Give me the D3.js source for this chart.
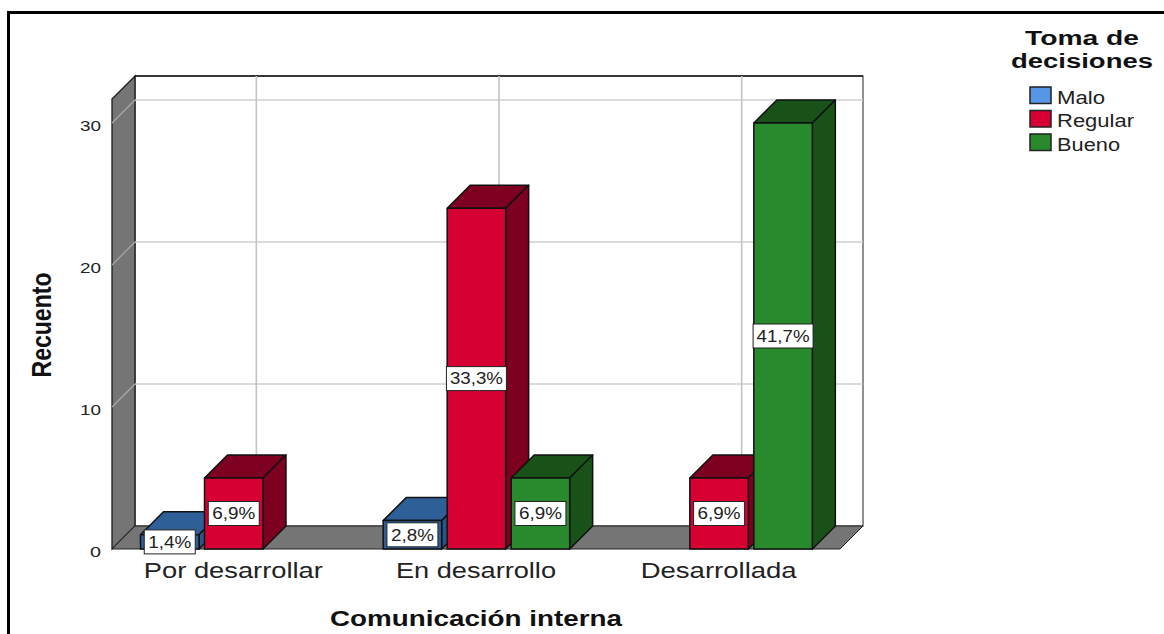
<!DOCTYPE html>
<html lang="es">
<head>
<meta charset="utf-8">
<script src="https://cdn.jsdelivr.net/npm/d3@7"></script>
<style>
  html, body { margin: 0; padding: 0; background: #fff; }
  svg { display: block; }
  text { font-family: "Liberation Sans", Arial, sans-serif; }
</style>
</head>
<body>
<svg id="chart" width="1164" height="634"></svg>
<script>
const categories = ["Por desarrollar", "En desarrollo", "Desarrollada"];
const seriesNames = ["Malo", "Regular", "Bueno"];
const malo = [1, 2, 0];
const regular = [5, 24, 5];
const bueno = [0, 5, 30];
const percentLabels = {
  Malo: ["1,4%", "2,8%", null],
  Regular: ["6,9%", "33,3%", "6,9%"],
  Bueno: [null, "6,9%", "41,7%"]
};
const yTicks = [0, 10, 20, 30];
const palette = {
  Malo: { legend: "#5596e6", front: "#2f5f97", top: "#2f5f97", side: "#2b568a" },
  Regular: { legend: "#d60032", front: "#d60032", top: "#7d0020", side: "#7d0020" },
  Bueno: { legend: "#288a2c", front: "#288a2c", top: "#195218", side: "#195218" }
};
const seriesValues = { Malo: malo, Regular: regular, Bueno: bueno };

const svg = d3.select("#chart");
const depth = 23;
const y = d3.scaleLinear().domain([0, 30]).range([549, 123]);
const yMax = 31.69;
const x0 = d3.scaleBand().domain(categories).range([112, 840]);
const x1 = d3.scaleBand().domain(seriesNames).range([28.5, 215]).paddingInner(0.086);

const poly = pts => pts.map(p => p.join(",")).join(" ");
const ink = "#1a1a1a";
const sans = '"Liberation Sans", Arial, sans-serif';

// Stretches a text run horizontally to a fixed advance
const fit = (sel, len) => sel.attr("textLength", len).attr("lengthAdjust", "spacingAndGlyphs");

// Outer frame: only the top and left edges are visible
svg.append("path").attr("d", "M1164,12.5H8.5V634").attr("fill", "none")
  .attr("stroke", "#000").attr("stroke-width", 3);

// Back wall, left wall and floor of the 3D box
const floorY = y(0), topY = y(yMax);
const left = x0.range()[0], right = x0.range()[1];
svg.append("rect").attr("x", left + depth).attr("y", topY - depth)
  .attr("width", right - left).attr("height", floorY - topY)
  .attr("fill", "#fff").attr("stroke", "#555").attr("stroke-width", 1.3);
svg.append("line").attr("x1", left + depth).attr("x2", right + depth)
  .attr("y1", topY - depth).attr("y2", topY - depth)
  .attr("stroke", ink).attr("stroke-width", 1.3);
svg.append("polygon")
  .attr("points", poly([[left, floorY], [left + depth, floorY - depth], [left + depth, topY - depth], [left, topY]]))
  .attr("fill", "#757575").attr("stroke", ink).attr("stroke-width", 1.3);
svg.append("polygon")
  .attr("points", poly([[left, floorY], [left + depth, floorY - depth], [right + depth, floorY - depth], [right, floorY]]))
  .attr("fill", "#757575").attr("stroke", "#222").attr("stroke-width", 1);

// Gridlines on the walls
yTicks.filter(d => d > 0).forEach(d => {
  svg.append("line").attr("x1", left + depth).attr("x2", right + depth)
    .attr("y1", y(d) - depth).attr("y2", y(d) - depth)
    .attr("stroke", "#cfcfcf").attr("stroke-width", 1.6);
  svg.append("line").attr("x1", left).attr("x2", left + depth)
    .attr("y1", y(d)).attr("y2", y(d) - depth)
    .attr("stroke", "#a8a8a8").attr("stroke-width", 1.2);
});
categories.forEach(c => {
  const cx = x0(c) + x0.bandwidth() / 2 + depth;
  svg.append("line").attr("x1", cx).attr("x2", cx)
    .attr("y1", topY - depth).attr("y2", floorY - depth)
    .attr("stroke", "#c4c4c4").attr("stroke-width", 1.6);
});

// Value axis labels
const yAxis = d3.axisLeft(y).tickValues(yTicks).tickSize(0).tickPadding(0).tickFormat(d3.format("d"));
const yG = svg.append("g").attr("transform", "translate(101,2.5)").call(yAxis);
yG.select(".domain").remove();
yG.selectAll("text").attr("font-size", 15).attr("fill", "#222").style("font-family", sans)
  .attr("textLength", d => d === 0 ? 11 : 21).attr("lengthAdjust", "spacingAndGlyphs");

// Category axis labels
const labelWidths = [179, 160, 156];
const xAxis = d3.axisBottom(x0).tickSize(0).tickPadding(0);
const xG = svg.append("g").attr("transform", "translate(0,562)").call(xAxis);
xG.select(".domain").remove();
xG.selectAll("text").attr("font-size", 22).attr("fill", "#222").style("font-family", sans)
  .attr("textLength", (d, i) => labelWidths[i]).attr("lengthAdjust", "spacingAndGlyphs");

// Bars, each with a front, top and side face
const bars = [];
seriesNames.forEach(s => categories.forEach((c, i) => {
  const v = seriesValues[s][i];
  if (v > 0) bars.push({ s, c, v, label: percentLabels[s][i] });
}));
bars.forEach(b => {
  const bx = x0(b.c) + x1(b.s), bw = x1.bandwidth(), by = y(b.v), col = palette[b.s];
  const g = svg.append("g").attr("stroke", "#111").attr("stroke-width", 1.5).attr("stroke-linejoin", "round");
  g.append("polygon").attr("fill", col.top)
    .attr("points", poly([[bx, by], [bx + depth, by - depth], [bx + bw + depth, by - depth], [bx + bw, by]]));
  g.append("polygon").attr("fill", col.side)
    .attr("points", poly([[bx + bw, by], [bx + bw + depth, by - depth], [bx + bw + depth, floorY - depth], [bx + bw, floorY]]));
  g.append("rect").attr("x", bx).attr("y", by).attr("width", bw).attr("height", floorY - by).attr("fill", col.front);
});

// Percentage tags, centred on each bar's front face
bars.forEach(b => {
  const cx = x0(b.c) + x1(b.s) + x1.bandwidth() / 2;
  const cy = y(b.v / 2);
  const long = b.label.length > 4;
  const w = long ? 60 : 51, h = 24;
  const g = svg.append("g").attr("transform", `translate(${cx},${cy})`);
  g.append("rect").attr("x", -w / 2).attr("y", -h / 2).attr("width", w).attr("height", h)
    .attr("fill", "#fff").attr("stroke", "#222").attr("stroke-width", 1);
  fit(g.append("text").attr("text-anchor", "middle").attr("dy", "0.36em")
    .attr("font-size", 16).attr("fill", "#222").text(b.label), long ? 53 : 43);
});

// Axis titles
fit(svg.append("text").attr("x", 476).attr("y", 626).attr("text-anchor", "middle")
  .attr("font-size", 22).attr("font-weight", "bold").attr("fill", "#111").text("Comunicación interna"), 292);
fit(svg.append("text").attr("transform", "translate(51,325) rotate(-90)").attr("text-anchor", "middle")
  .attr("font-size", 28).attr("font-weight", "bold").attr("fill", "#111").text("Recuento"), 105);

// Legend
const legendTitle = ["Toma de", "decisiones"];
const legendTitleWidths = [114, 142];
legendTitle.forEach((t, i) => {
  fit(svg.append("text").attr("x", 1082).attr("y", 45 + i * 23).attr("text-anchor", "middle")
    .attr("font-size", 20).attr("font-weight", "bold").attr("fill", "#111").text(t), legendTitleWidths[i]);
});
const legendWidths = [48, 77, 63];
seriesNames.forEach((s, i) => {
  const ly = 87 + i * 23.5;
  svg.append("rect").attr("x", 1030).attr("y", ly).attr("width", 21).attr("height", 16.5)
    .attr("fill", palette[s].legend).attr("stroke", "#222").attr("stroke-width", 1.5);
  fit(svg.append("text").attr("x", 1057).attr("y", ly + 16.5).attr("font-size", 17.5)
    .attr("fill", "#222").text(s), legendWidths[i]);
});
</script>
</body>
</html>
